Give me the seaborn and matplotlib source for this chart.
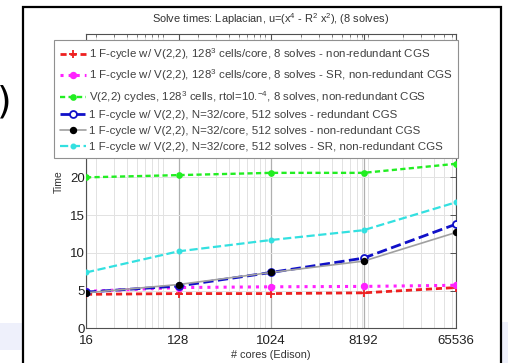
import numpy as np
import pandas as pd
import matplotlib
matplotlib.use("Agg")
import matplotlib.pyplot as plt
import matplotlib.ticker as mticker
from matplotlib.patches import Rectangle
import seaborn as sns

cores = [16, 128, 1024, 8192, 65536]
xtick_labels = ["16", "128", "1024", "8192", "65536"]

red_vals = [4.5, 4.6, 4.6, 4.7, 5.4]
magenta_vals = [4.9, 5.4, 5.5, 5.55, 5.7]
green_vals = [20.0, 20.3, 20.6, 20.6, 21.8]
blue_vals = [4.8, 5.6, 7.4, 9.3, 13.8]
black_vals = [4.7, 5.8, 7.4, 8.9, 12.7]
cyan_vals = [7.4, 10.2, 11.7, 13.0, 16.7]

labels = [
    "1 F-cycle w/ V(2,2), 128$^3$ cells/core, 8 solves - non-redundant CGS",
    "1 F-cycle w/ V(2,2), 128$^3$ cells/core, 8 solves - SR, non-redundant CGS",
    "V(2,2) cycles, 128$^3$ cells, rtol=10.$^{-4}$, 8 solves, non-redundant CGS",
    "1 F-cycle w/ V(2,2), N=32/core, 512 solves - redundant CGS",
    "1 F-cycle w/ V(2,2), N=32/core, 512 solves - non-redundant CGS",
    "1 F-cycle w/ V(2,2), N=32/core, 512 solves - SR, non-redundant CGS",
]

title_text = "Solve times: Laplacian, u=(x$^4$ - R$^2$ x$^2$), (8 solves)"
xlabel_text = "# cores (Edison)"
ylabel_text = "Time"

sns.set_style("white")
plt.rcParams['font.family'] = ['Liberation Sans', 'DejaVu Sans']
plt.rcParams['mathtext.fontset'] = 'custom'
plt.rcParams['mathtext.rm'] = 'Liberation Sans'
plt.rcParams['mathtext.it'] = 'Liberation Sans'

W, H = 508, 363
fig = plt.figure(figsize=(W / 100, H / 100), dpi=100)
fig.patch.set_facecolor("white")

# slide decorations (behind the axes)
fig.patches.append(Rectangle((0, 1 - 350 / H), 22 / W, 27 / H, transform=fig.transFigure,
                             facecolor="#eef0fb", edgecolor="none", zorder=-3))
fig.patches.append(Rectangle((502 / W, 0), 6 / W, 41 / H, transform=fig.transFigure,
                             facecolor="#eef0fb", edgecolor="none", zorder=-3))
fig.patches.append(Rectangle((23 / W, -0.05), (501 - 23) / W, (1 - 7 / H) + 0.05,
                             transform=fig.transFigure, facecolor="white",
                             edgecolor="black", linewidth=1.6, zorder=-2))
fig.text(-3 / W, 1 - 102 / H, ")", fontsize=27, color="black", ha="left", va="center",
         family="DejaVu Sans")

ax = fig.add_axes([86 / W, 1 - 328.3 / H, (456 - 86) / W, (328.3 - 34) / H])
ax.set_facecolor("white")

series = [
    (red_vals, "#ee2020", (0, (2.2, 1.4)), "+", 2.0, 6, "#ee2020"),
    (magenta_vals, "#ff22ff", ":", "o", 2.2, 4, "#ff22ff"),
    (green_vals, "#22ee22", (0, (2.2, 1.4)), "o", 1.7, 3.5, "#22ee22"),
    (blue_vals, "#1010c8", "--", "o", 2.0, 5, "white"),
    (black_vals, "#a0a0a0", "-", "o", 1.2, 4, "black"),
    (cyan_vals, "#33e0e0", "--", "o", 1.6, 3, "#33e0e0"),
]

for (vals, col, ls, mk, lw, ms, mfc), lab in zip(series, labels):
    df = pd.DataFrame({"cores": cores, "time": vals})
    mec = "black" if mfc == "black" else col
    sns.lineplot(data=df, x="cores", y="time", ax=ax, color=col, linestyle=ls,
                 linewidth=lw, marker=mk, markersize=ms, markerfacecolor=mfc,
                 markeredgecolor=mec, markeredgewidth=1.3, label=lab, zorder=3)
handles, hlabels = ax.get_legend_handles_labels()

ax.set_xscale("log", base=2)
ax.set_xlim(16, 65536)
ax.set_ylim(0, 39)
ax.xaxis.set_major_locator(mticker.FixedLocator(cores))
ax.xaxis.set_major_formatter(mticker.FixedFormatter(xtick_labels))
ax.xaxis.set_minor_locator(mticker.LogLocator(base=10, subs=np.arange(2, 10)))
ax.xaxis.set_minor_formatter(mticker.NullFormatter())
ax.yaxis.set_major_locator(mticker.MultipleLocator(5))

ax.grid(True, which="major", axis="x", color="#b0b0b0", linewidth=0.9)
ax.grid(True, which="minor", axis="x", color="#e2e2e2", linewidth=0.7)
ax.grid(True, which="major", axis="y", color="#e2e2e2", linewidth=0.7)
ax.set_axisbelow(True)

for sp in ax.spines.values():
    sp.set_visible(True)
    sp.set_color("#505050")
    sp.set_linewidth(0.8)
ax.tick_params(which="both", direction="in", top=True, right=True, colors="#505050",
               labelcolor="#202020", labelsize=9.5)
ax.tick_params(which="major", length=4, width=0.7)
ax.tick_params(which="minor", length=2, width=0.5)
ax.tick_params(axis="x", pad=5)
ax.tick_params(axis="y", pad=1)

ax.set_xlabel(xlabel_text, fontsize=7.8, color="#333333", labelpad=2)
ax.set_ylabel(ylabel_text, fontsize=7.5, color="#333333", labelpad=4)
ax.set_title(title_text, fontsize=7.9, color="#333333", pad=8)

leg = ax.legend(handles, hlabels, loc="upper left",
                bbox_to_anchor=(54 / W, 1 - 40 / H), bbox_transform=fig.transFigure,
                fontsize=8.25, frameon=True, fancybox=False, framealpha=1,
                edgecolor="#909090", borderpad=0.5, labelspacing=0.5,
                handlelength=2.3, handletextpad=0.25, borderaxespad=0)
leg.get_frame().set_linewidth(0.8)
for t in leg.get_texts():
    t.set_color("#404040")
leg.set_zorder(10)

fig.savefig("out.png", dpi=100)
